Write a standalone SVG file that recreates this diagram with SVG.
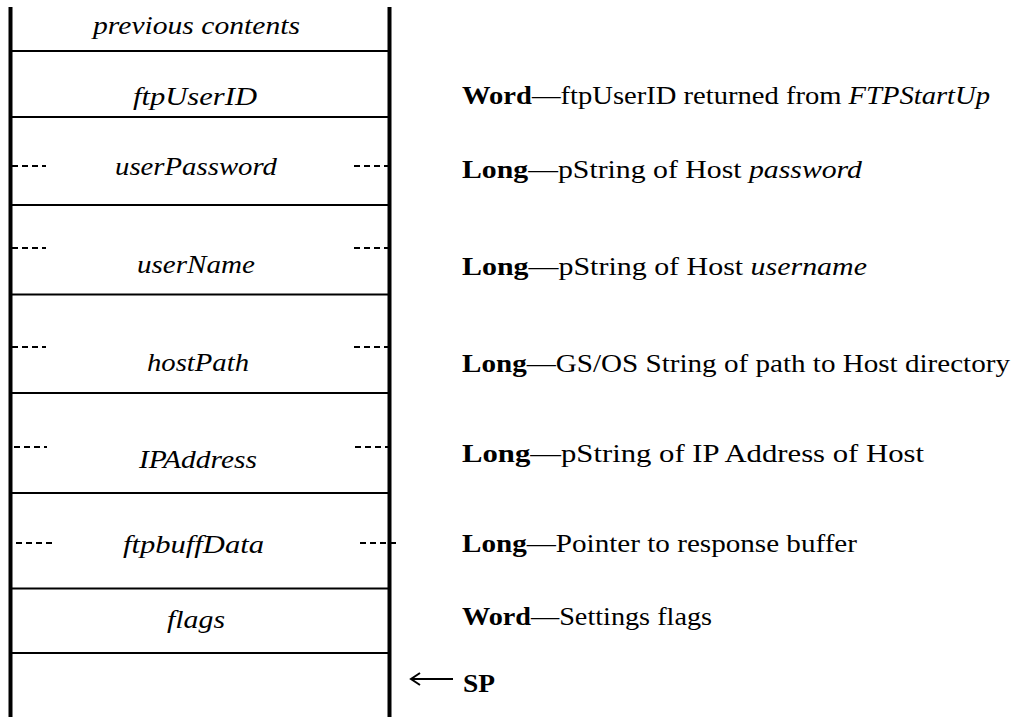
<svg xmlns="http://www.w3.org/2000/svg" width="1016" height="717" viewBox="0 0 1016 717">
<style>
.v{stroke:#000;stroke-width:4;fill:none}
.h{stroke:#000;stroke-width:2;fill:none}
.d{stroke:#000;stroke-width:2;stroke-dasharray:6 4;fill:none}
.lbl{font-family:"Liberation Serif",serif;font-style:italic;font-size:25px;text-anchor:middle;fill:#000}
.desc{font-family:"Liberation Serif",serif;font-size:25px;fill:#000}
.b{font-weight:bold}
.i{font-style:italic}
</style>
<rect width="1016" height="717" fill="#fff"/>
<g id="frame">
<line class="v" x1="10.5" y1="7" x2="10.5" y2="717"/>
<line class="v" x1="389.5" y1="7" x2="389.5" y2="717"/>
<line class="h" x1="12" y1="51" x2="391" y2="51"/>
<line class="h" x1="12" y1="117" x2="391" y2="117"/>
<line class="h" x1="12" y1="205" x2="391" y2="205"/>
<line class="h" x1="12" y1="294.5" x2="391" y2="294.5"/>
<line class="h" x1="12" y1="393" x2="391" y2="393"/>
<line class="h" x1="12" y1="493" x2="391" y2="493"/>
<line class="h" x1="12" y1="588.5" x2="391" y2="588.5"/>
<line class="h" x1="12" y1="653" x2="391" y2="653"/>
</g>
<g id="connectors">
<line class="d" x1="12" y1="166" x2="46" y2="166"/>
<line class="d" x1="354" y1="166" x2="388" y2="166"/>
<line class="d" x1="12" y1="248" x2="46" y2="248"/>
<line class="d" x1="354" y1="248" x2="388" y2="248"/>
<line class="d" x1="12" y1="347" x2="46" y2="347"/>
<line class="d" x1="354" y1="347" x2="388" y2="347"/>
<line class="d" x1="14" y1="447" x2="47" y2="447"/>
<line class="d" x1="355" y1="447" x2="388" y2="447"/>
<line class="d" x1="16" y1="543" x2="52" y2="543"/>
<line class="d" x1="360" y1="543" x2="396" y2="543"/>
<path d="M453 679 H412 M420 673 L411 679 L420 685" stroke="#000" stroke-width="2" fill="none"/>
</g>
<g id="node-previous"><text class="lbl" x="196.5" y="34" textLength="207" lengthAdjust="spacingAndGlyphs">previous contents</text></g>
<g id="node-ftpUserID"><text class="lbl" x="195" y="105" textLength="124" lengthAdjust="spacingAndGlyphs">ftpUserID</text>
<text class="desc" x="462" y="104" textLength="528" lengthAdjust="spacingAndGlyphs"><tspan class="b">Word</tspan>—ftpUserID returned from <tspan class="i">FTPStartUp</tspan></text></g>
<g id="node-userPassword"><text class="lbl" x="196" y="175" textLength="162" lengthAdjust="spacingAndGlyphs">userPassword</text>
<text class="desc" x="462" y="178" textLength="400" lengthAdjust="spacingAndGlyphs"><tspan class="b">Long</tspan>—pString of Host <tspan class="i">password</tspan></text></g>
<g id="node-userName"><text class="lbl" x="196" y="273" textLength="118" lengthAdjust="spacingAndGlyphs">userName</text>
<text class="desc" x="462" y="275" textLength="405" lengthAdjust="spacingAndGlyphs"><tspan class="b">Long</tspan>—pString of Host <tspan class="i">username</tspan></text></g>
<g id="node-hostPath"><text class="lbl" x="198" y="371" textLength="102" lengthAdjust="spacingAndGlyphs">hostPath</text>
<text class="desc" x="462" y="372" textLength="548" lengthAdjust="spacingAndGlyphs"><tspan class="b">Long</tspan>—GS/OS String of path to Host directory</text></g>
<g id="node-IPAddress"><text class="lbl" x="198" y="468" textLength="118" lengthAdjust="spacingAndGlyphs">IPAddress</text>
<text class="desc" x="462" y="462" textLength="462" lengthAdjust="spacingAndGlyphs"><tspan class="b">Long</tspan>—pString of IP Address of Host</text></g>
<g id="node-ftpbuffData"><text class="lbl" x="193.5" y="553" textLength="141" lengthAdjust="spacingAndGlyphs">ftpbuffData</text>
<text class="desc" x="462" y="552" textLength="395" lengthAdjust="spacingAndGlyphs"><tspan class="b">Long</tspan>—Pointer to response buffer</text></g>
<g id="node-flags"><text class="lbl" x="196" y="628" textLength="58" lengthAdjust="spacingAndGlyphs">flags</text>
<text class="desc" x="462" y="625" textLength="250" lengthAdjust="spacingAndGlyphs"><tspan class="b">Word</tspan>—Settings flags</text></g>
<g id="node-SP"><text class="desc b" x="463" y="692" textLength="32" lengthAdjust="spacingAndGlyphs">SP</text></g>
</svg>
